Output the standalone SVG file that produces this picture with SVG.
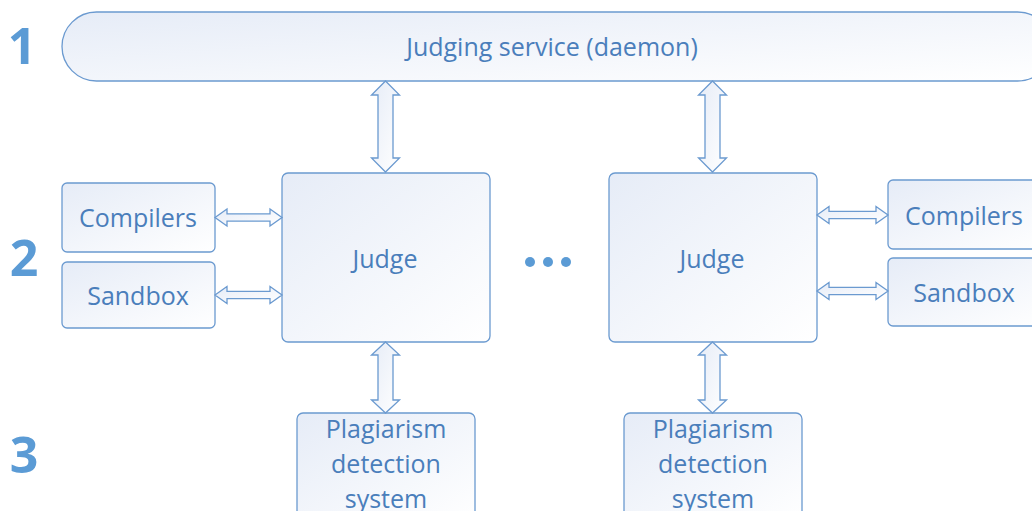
<svg xmlns="http://www.w3.org/2000/svg" width="1032" height="511" viewBox="0 0 1032 511">
<defs>
<linearGradient id="g" x1="0" y1="0" x2="1" y2="1">
<stop offset="0" stop-color="#e6ecf7"/>
<stop offset="1" stop-color="#ffffff"/>
</linearGradient>
<style>
.box{fill:url(#g);stroke:#6b9ad0;stroke-width:1.3}
.arr{fill:url(#g);stroke:#6b9ad0;stroke-width:1.3;stroke-linejoin:miter}
.t{font-family:"Open Sans","Liberation Sans",sans-serif;fill:#4a7ebb;text-anchor:middle;dominant-baseline:central;font-size:25px}
.n{font-family:"Open Sans","Liberation Sans",sans-serif;font-weight:bold;fill:#5b9bd5;font-size:50px;text-anchor:middle;dominant-baseline:central}
</style>
</defs>
<rect width="1032" height="511" fill="#fff"/>
<g id="labels">
<text class="n" x="22" y="45">1</text>
<text class="n" x="24" y="257">2</text>
<text class="n" x="24" y="454">3</text>
</g>
<g id="service">
<rect class="box" x="62" y="12" width="990" height="69" rx="34.5"/>
<text class="t" x="552" y="46">Judging service (daemon)</text>
</g>
<g id="compilers-left">
<rect class="box" x="62" y="183" width="153" height="69" rx="5"/>
<text class="t" x="138" y="217">Compilers</text>
</g>
<g id="sandbox-left">
<rect class="box" x="62" y="262" width="153" height="66" rx="5"/>
<text class="t" x="138" y="295">Sandbox</text>
</g>
<g id="judge-left">
<rect class="box" x="282" y="173" width="208" height="169" rx="6"/>
<text class="t" x="385" y="258">Judge</text>
</g>
<g id="judge-right">
<rect class="box" x="609" y="173" width="208" height="169" rx="6"/>
<text class="t" x="712" y="258">Judge</text>
</g>
<g id="compilers-right">
<rect class="box" x="888" y="180" width="160" height="69" rx="5"/>
<text class="t" x="964" y="215">Compilers</text>
</g>
<g id="sandbox-right">
<rect class="box" x="888" y="258" width="160" height="68" rx="5"/>
<text class="t" x="964" y="292">Sandbox</text>
</g>
<g id="plagiarism-left">
<rect class="box" x="297" y="413" width="178" height="110" rx="6"/>
<text class="t" x="386" y="428">Plagiarism</text>
<text class="t" x="386" y="463">detection</text>
<text class="t" x="386" y="498">system</text>
</g>
<g id="plagiarism-right">
<rect class="box" x="624" y="413" width="178" height="110" rx="6"/>
<text class="t" x="713" y="428">Plagiarism</text>
<text class="t" x="713" y="463">detection</text>
<text class="t" x="713" y="498">system</text>
</g>
<g id="ellipsis" fill="#5b9bd5">
<circle cx="530" cy="262" r="5"/>
<circle cx="548" cy="262" r="5"/>
<circle cx="566" cy="262" r="5"/>
</g>
<g id="connectors">
<polygon class="arr" points="385.5,81 399.5,95 393,95 393,158 399.5,158 385.5,172 371.5,158 378,158 378,95 371.5,95"/>
<polygon class="arr" points="712.5,81 726.5,95 720,95 720,158 726.5,158 712.5,172 698.5,158 705,158 705,95 698.5,95"/>
<polygon class="arr" points="385.5,342 399.5,355 393,355 393,400 399.5,400 385.5,413 371.5,400 378,400 378,355 371.5,355"/>
<polygon class="arr" points="712.5,342 726.5,355 720,355 720,400 726.5,400 712.5,413 698.5,400 705,400 705,355 698.5,355"/>
<polygon class="arr" points="215,217.5 227,209 227,213.8 270,213.8 270,209 282,217.5 270,226 270,221.2 227,221.2 227,226"/>
<polygon class="arr" points="215,295 227,286.5 227,291.3 270,291.3 270,286.5 282,295 270,303.5 270,298.7 227,298.7 227,303.5"/>
<polygon class="arr" points="817,215 829,206.5 829,211.3 876,211.3 876,206.5 888,215 876,223.5 876,218.7 829,218.7 829,223.5"/>
<polygon class="arr" points="817,291 829,282.5 829,287.3 876,287.3 876,282.5 888,291 876,299.5 876,294.7 829,294.7 829,299.5"/>
</g>
</svg>
